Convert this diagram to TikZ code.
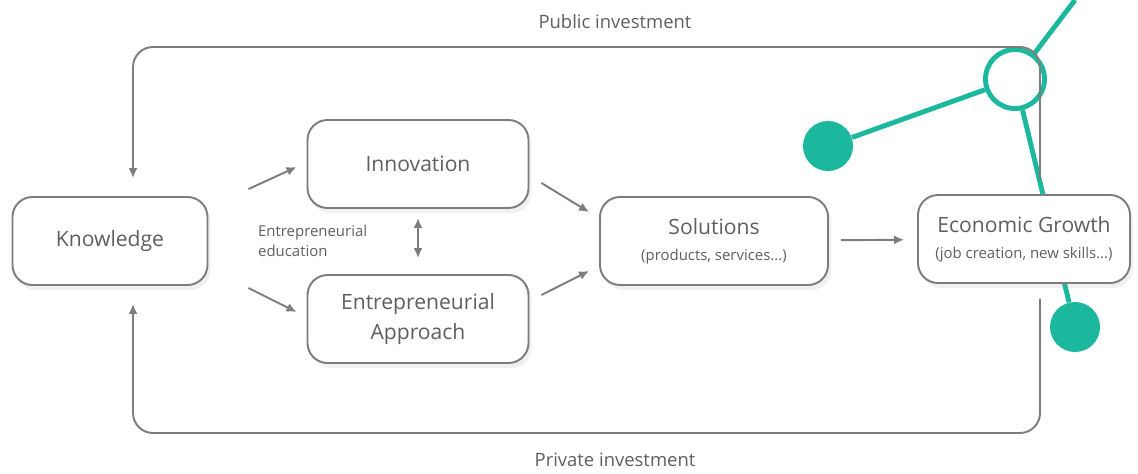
\documentclass[tikz,border=0pt]{standalone}
\usepackage{fontspec}
\setmainfont{Open Sans}
\usepackage{tikz}
\usetikzlibrary{arrows.meta, positioning, backgrounds, calc, shadows}
\tikzset{>={Latex[width=1.8mm,length=2mm]}}
\definecolor{txtgray}{RGB}{95,95,95}
\definecolor{linegray}{RGB}{125,125,125}
\definecolor{dotteal}{RGB}{28,184,158}
\tikzset{
  block/.style = {draw=linegray, line width=1.1pt, rounded corners=0.4cm, fill=white,
    minimum height=1.76cm, text=txtgray, align=center,
    font=\fontsize{12}{17}\selectfont,
    drop shadow={opacity=0.12, shadow xshift=0.06cm, shadow yshift=-0.1cm}},
  flow/.style = {->, draw=linegray, line width=1.1pt},
  caption/.style = {text=txtgray, font=\fontsize{10.5}{13}\selectfont},
  smalltext/.style = {text=txtgray, align=left, font=\fontsize{8.5}{11}\selectfont},
  tealline/.style = {draw=dotteal, line width=2.8pt},
  tealdot/.style = {circle, fill=dotteal, inner sep=0pt, minimum size=1cm}
}

\begin{document}
\begin{tikzpicture}[on grid, node distance = 6.16cm]
		\useasboundingbox (0,0) rectangle (22.76,9.46);
		\node (know) [block, minimum width=3.9cm] at (2.2,4.64) {Knowledge};
		\node (inno) [block, minimum width=4.42cm, above right = 1.54cm and 6.16cm of know] {Innovation};
		\node (appr) [block, minimum width=4.42cm, below = 3.1cm of inno] {Entrepreneurial\\Approach};
		\node (sol) [block, minimum width=4.56cm, right = 12.08cm of know]
		  {Solutions\\[-2pt]{\fontsize{8.5}{11}\selectfont (products, services...)}};
		\node (growth) [block, minimum width=4.24cm, right = 6.2cm of sol, yshift=0.04cm]
		  {Economic Growth\\[-2pt]{\fontsize{8.5}{11}\selectfont (job creation, new skills...)}};
		\node (edu) [smalltext, anchor=west] at ($(know.east)+(0.87,0)$) {Entrepreneurial\\education};
		\node (pub) [caption] at (12.3,9.02) {Public investment};
		\node (priv) [caption] at (12.3,0.26) {Private investment};

		% teal ornament behind the boxes
		\begin{scope}[on background layer]
		\node (hub) [circle, draw=dotteal, line width=2.8pt, inner sep=0pt, minimum size=1.18cm] at (20.3,7.88) {};
		\node (dotA) [tealdot] at (16.56,6.54) {};
		\node (dotB) [tealdot] at (21.5,2.92) {};
		\coordinate (tail) at (21.5,9.46);
		\draw[tealline] (hub) -- (dotA) (hub) -- (dotB) (hub) -- (tail);
		\end{scope}

		\path[every edge/.style={flow}]
		($(know.north east)+(0.8,0.14)$) edge ($(inno.west)+(-0.2,-0.06)$)
		($(know.south east)+(0.8,-0.04)$) edge ($(appr.west)+(-0.2,0.14)$)
		($(inno.east)+(0.24,-0.38)$) edge ($(sol.north west)+(-0.2,-0.32)$)
		($(appr.east)+(0.24,0.48)$) edge ($(sol.south west)+(-0.2,0.3)$)
		(inno) edge [<->, shorten <=0.18cm, shorten >=0.32cm] (appr)
		(sol) edge [shorten <=0.24cm, shorten >=0.26cm] (growth);

		% investment loops
		\coordinate (pubtop) at (12.3,8.52);
		\coordinate (privbot) at (12.3,0.8);
		\draw[flow, rounded corners=0.4cm] ($(growth.north)+(0.32,0.3)$) |- (pubtop) -| ($(know.north)+(0.46,0.36)$);
		\draw[flow, rounded corners=0.4cm] ($(growth.south)+(0.32,-0.3)$) |- (privbot) -| ($(know.south)+(0.46,-0.36)$);
\end{tikzpicture}
\end{document}
